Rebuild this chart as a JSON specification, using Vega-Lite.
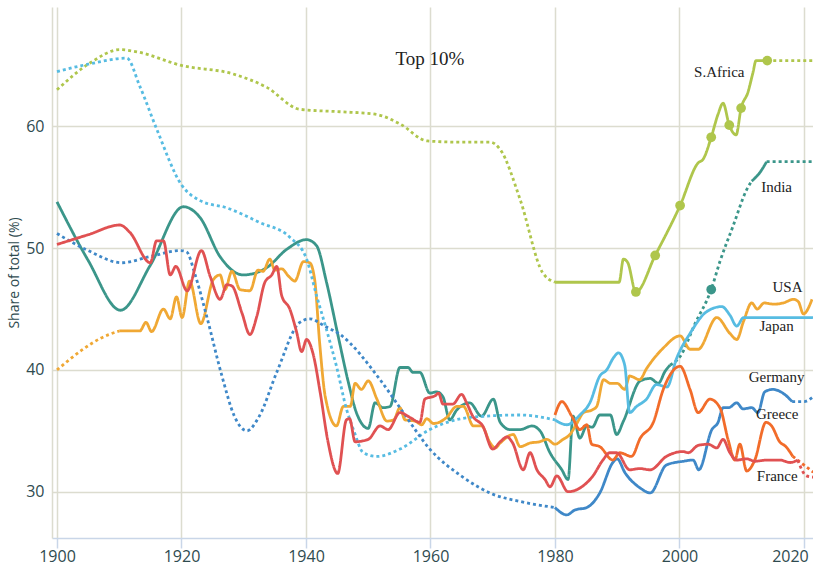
{
  "$schema": "https://vega.github.io/schema/vega-lite/v6.json",
  "width": 761,
  "height": 531,
  "autosize": {"type": "none"},
  "padding": {"left": 52, "top": 7, "right": 0, "bottom": 30},
  "background": "white",
  "config": {
    "view": {"stroke": null},
    "axis": {
      "labelFont": "Open Sans",
      "titleFont": "Open Sans",
      "labelFontSize": 16,
      "labelColor": "#2f4b4f",
      "titleColor": "#2f4b4f",
      "gridColor": "#dcdccf",
      "gridWidth": 1.5
    }
  },
  "datasets": {
    "lines": [
      {"country":"S.Africa","seg":"SA1","style":"dotted","year":1900,"value":63.0},
      {"country":"S.Africa","seg":"SA1","style":"dotted","year":1905.3,"value":65.2},
      {"country":"S.Africa","seg":"SA1","style":"dotted","year":1910.1,"value":66.3},
      {"country":"S.Africa","seg":"SA1","style":"dotted","year":1913,"value":66.1},
      {"country":"S.Africa","seg":"SA1","style":"dotted","year":1920,"value":65.0},
      {"country":"S.Africa","seg":"SA1","style":"dotted","year":1928.3,"value":64.3},
      {"country":"S.Africa","seg":"SA1","style":"dotted","year":1933.7,"value":63.2},
      {"country":"S.Africa","seg":"SA1","style":"dotted","year":1939,"value":61.4},
      {"country":"S.Africa","seg":"SA1","style":"dotted","year":1945.5,"value":61.2},
      {"country":"S.Africa","seg":"SA1","style":"dotted","year":1951.1,"value":61.0},
      {"country":"S.Africa","seg":"SA1","style":"dotted","year":1955.1,"value":60.2},
      {"country":"S.Africa","seg":"SA1","style":"dotted","year":1959.5,"value":58.8},
      {"country":"S.Africa","seg":"SA1","style":"dotted","year":1965,"value":58.7},
      {"country":"S.Africa","seg":"SA1","style":"dotted","year":1969.6,"value":58.7},
      {"country":"S.Africa","seg":"SA1","style":"dotted","year":1971.2,"value":58.1},
      {"country":"S.Africa","seg":"SA1","style":"dotted","year":1974.4,"value":54.0},
      {"country":"S.Africa","seg":"SA1","style":"dotted","year":1978,"value":48.0},
      {"country":"S.Africa","seg":"SA1","style":"dotted","year":1980,"value":47.2},
      {"country":"S.Africa","seg":"SA2","style":"solid","year":1980,"value":47.2},
      {"country":"S.Africa","seg":"SA2","style":"solid","year":1990.3,"value":47.2},
      {"country":"S.Africa","seg":"SA2","style":"solid","year":1991.0,"value":49.1},
      {"country":"S.Africa","seg":"SA2","style":"solid","year":1991.7,"value":48.8},
      {"country":"S.Africa","seg":"SA2","style":"solid","year":1993,"value":46.4},
      {"country":"S.Africa","seg":"SA2","style":"solid","year":1996.1,"value":49.4},
      {"country":"S.Africa","seg":"SA2","style":"solid","year":2000.1,"value":53.5},
      {"country":"S.Africa","seg":"SA2","style":"solid","year":2003,"value":57.0},
      {"country":"S.Africa","seg":"SA2","style":"solid","year":2003.8,"value":57.3},
      {"country":"S.Africa","seg":"SA2","style":"solid","year":2005.1,"value":59.1},
      {"country":"S.Africa","seg":"SA2","style":"solid","year":2006.2,"value":61.0},
      {"country":"S.Africa","seg":"SA2","style":"solid","year":2007,"value":61.9},
      {"country":"S.Africa","seg":"SA2","style":"solid","year":2008,"value":60.1},
      {"country":"S.Africa","seg":"SA2","style":"solid","year":2009.1,"value":59.3},
      {"country":"S.Africa","seg":"SA2","style":"solid","year":2009.9,"value":61.5},
      {"country":"S.Africa","seg":"SA2","style":"solid","year":2011,"value":62.8},
      {"country":"S.Africa","seg":"SA2","style":"solid","year":2011.8,"value":64.4},
      {"country":"S.Africa","seg":"SA2","style":"solid","year":2012.3,"value":65.4},
      {"country":"S.Africa","seg":"SA2","style":"solid","year":2014.1,"value":65.4},
      {"country":"S.Africa","seg":"SA3","style":"dotted","year":2014.1,"value":65.4},
      {"country":"S.Africa","seg":"SA3","style":"dotted","year":2021.5,"value":65.4},

      {"country":"India","seg":"IN1","style":"solid","year":1900,"value":53.8},
      {"country":"India","seg":"IN1","style":"solid","year":1905,"value":49.0},
      {"country":"India","seg":"IN1","style":"solid","year":1910.2,"value":44.9},
      {"country":"India","seg":"IN1","style":"solid","year":1915,"value":48.6},
      {"country":"India","seg":"IN1","style":"solid","year":1920.3,"value":53.4},
      {"country":"India","seg":"IN1","style":"solid","year":1923,"value":52.5},
      {"country":"India","seg":"IN1","style":"solid","year":1926.2,"value":49.3},
      {"country":"India","seg":"IN1","style":"solid","year":1929.9,"value":47.8},
      {"country":"India","seg":"IN1","style":"solid","year":1933.7,"value":48.4},
      {"country":"India","seg":"IN1","style":"solid","year":1936.9,"value":49.9},
      {"country":"India","seg":"IN1","style":"solid","year":1940.1,"value":50.7},
      {"country":"India","seg":"IN1","style":"solid","year":1941.7,"value":50.2},
      {"country":"India","seg":"IN1","style":"solid","year":1943.3,"value":47.2},
      {"country":"India","seg":"IN1","style":"solid","year":1945.2,"value":42.7},
      {"country":"India","seg":"IN1","style":"solid","year":1946.8,"value":39.0},
      {"country":"India","seg":"IN1","style":"solid","year":1948.1,"value":36.5},
      {"country":"India","seg":"IN1","style":"solid","year":1950,"value":35.2},
      {"country":"India","seg":"IN1","style":"solid","year":1951.1,"value":37.3},
      {"country":"India","seg":"IN1","style":"solid","year":1952.4,"value":36.9},
      {"country":"India","seg":"IN1","style":"solid","year":1953.5,"value":37.0},
      {"country":"India","seg":"IN1","style":"solid","year":1955.1,"value":40.2},
      {"country":"India","seg":"IN1","style":"solid","year":1956.4,"value":40.2},
      {"country":"India","seg":"IN1","style":"solid","year":1957.2,"value":39.8},
      {"country":"India","seg":"IN1","style":"solid","year":1958.3,"value":39.8},
      {"country":"India","seg":"IN1","style":"solid","year":1959.9,"value":38.1},
      {"country":"India","seg":"IN1","style":"solid","year":1961,"value":38.2},
      {"country":"India","seg":"IN1","style":"solid","year":1962,"value":37.8},
      {"country":"India","seg":"IN1","style":"solid","year":1963.1,"value":35.9},
      {"country":"India","seg":"IN1","style":"solid","year":1964.2,"value":36.7},
      {"country":"India","seg":"IN1","style":"solid","year":1966.3,"value":37.3},
      {"country":"India","seg":"IN1","style":"solid","year":1968.2,"value":36.2},
      {"country":"India","seg":"IN1","style":"solid","year":1970.1,"value":37.6},
      {"country":"India","seg":"IN1","style":"solid","year":1971.2,"value":35.7},
      {"country":"India","seg":"IN1","style":"solid","year":1972.8,"value":35.1},
      {"country":"India","seg":"IN1","style":"solid","year":1974.4,"value":35.1},
      {"country":"India","seg":"IN1","style":"solid","year":1976.3,"value":35.4},
      {"country":"India","seg":"IN1","style":"solid","year":1977.6,"value":35.0},
      {"country":"India","seg":"IN1","style":"solid","year":1979.2,"value":33.2},
      {"country":"India","seg":"IN1","style":"solid","year":1981.1,"value":31.8},
      {"country":"India","seg":"IN1","style":"solid","year":1982.1,"value":31.0},
      {"country":"India","seg":"IN1","style":"solid","year":1982.9,"value":36.2},
      {"country":"India","seg":"IN1","style":"solid","year":1984,"value":34.4},
      {"country":"India","seg":"IN1","style":"solid","year":1985.1,"value":35.4},
      {"country":"India","seg":"IN1","style":"solid","year":1986,"value":35.3},
      {"country":"India","seg":"IN1","style":"solid","year":1987.2,"value":36.3},
      {"country":"India","seg":"IN1","style":"solid","year":1988.9,"value":36.3},
      {"country":"India","seg":"IN1","style":"solid","year":1989.9,"value":34.7},
      {"country":"India","seg":"IN1","style":"solid","year":1991,"value":35.8},
      {"country":"India","seg":"IN1","style":"solid","year":1993.7,"value":39.1},
      {"country":"India","seg":"IN1","style":"solid","year":1995.3,"value":39.3},
      {"country":"India","seg":"IN1","style":"solid","year":1996.6,"value":38.9},
      {"country":"India","seg":"IN1","style":"solid","year":1997.7,"value":39.9},
      {"country":"India","seg":"IN1","style":"solid","year":1998.5,"value":40.4},
      {"country":"India","seg":"IN2","style":"dotted","year":1998.5,"value":40.4},
      {"country":"India","seg":"IN2","style":"dotted","year":2000.1,"value":41.1},
      {"country":"India","seg":"IN2","style":"dotted","year":2002.5,"value":43.8},
      {"country":"India","seg":"IN2","style":"dotted","year":2005.1,"value":46.6},
      {"country":"India","seg":"IN2","style":"dotted","year":2006.5,"value":48.9},
      {"country":"India","seg":"IN2","style":"dotted","year":2008.6,"value":51.8},
      {"country":"India","seg":"IN2","style":"dotted","year":2010.8,"value":54.8},
      {"country":"India","seg":"IN2","style":"dotted","year":2011.6,"value":55.5},
      {"country":"India","seg":"IN3","style":"solid","year":2011.6,"value":55.5},
      {"country":"India","seg":"IN3","style":"solid","year":2012.9,"value":56.2},
      {"country":"India","seg":"IN3","style":"solid","year":2014,"value":57.1},
      {"country":"India","seg":"IN4","style":"dotted","year":2014,"value":57.1},
      {"country":"India","seg":"IN4","style":"dotted","year":2021.5,"value":57.1},

      {"country":"USA","seg":"US1","style":"dotted","year":1900,"value":40.0},
      {"country":"USA","seg":"US1","style":"dotted","year":1904.2,"value":41.7},
      {"country":"USA","seg":"US1","style":"dotted","year":1907,"value":42.6},
      {"country":"USA","seg":"US1","style":"dotted","year":1910,"value":43.2},
      {"country":"USA","seg":"US2","style":"solid","year":1910,"value":43.2},
      {"country":"USA","seg":"US2","style":"solid","year":1913.3,"value":43.2},
      {"country":"USA","seg":"US2","style":"solid","year":1914.3,"value":43.9},
      {"country":"USA","seg":"US2","style":"solid","year":1915.2,"value":43.15},
      {"country":"USA","seg":"US2","style":"solid","year":1917.1,"value":45.0},
      {"country":"USA","seg":"US2","style":"solid","year":1918.2,"value":44.2},
      {"country":"USA","seg":"US2","style":"solid","year":1919.2,"value":46.0},
      {"country":"USA","seg":"US2","style":"solid","year":1920.1,"value":44.3},
      {"country":"USA","seg":"US2","style":"solid","year":1921.3,"value":47.3},
      {"country":"USA","seg":"US2","style":"solid","year":1923.1,"value":43.8},
      {"country":"USA","seg":"US2","style":"solid","year":1925.1,"value":47.4},
      {"country":"USA","seg":"US2","style":"solid","year":1926.2,"value":47.8},
      {"country":"USA","seg":"US2","style":"solid","year":1927,"value":46.6},
      {"country":"USA","seg":"US2","style":"solid","year":1928.1,"value":48.1},
      {"country":"USA","seg":"US2","style":"solid","year":1929.4,"value":46.6},
      {"country":"USA","seg":"US2","style":"solid","year":1931,"value":46.5},
      {"country":"USA","seg":"US2","style":"solid","year":1932.3,"value":48.2},
      {"country":"USA","seg":"US2","style":"solid","year":1933.1,"value":48.1},
      {"country":"USA","seg":"US2","style":"solid","year":1934.2,"value":49.1},
      {"country":"USA","seg":"US2","style":"solid","year":1935,"value":48.2},
      {"country":"USA","seg":"US2","style":"solid","year":1936.1,"value":48.3},
      {"country":"USA","seg":"US2","style":"solid","year":1937.2,"value":47.7},
      {"country":"USA","seg":"US2","style":"solid","year":1938.2,"value":47.3},
      {"country":"USA","seg":"US2","style":"solid","year":1939.6,"value":48.9},
      {"country":"USA","seg":"US2","style":"solid","year":1940.6,"value":48.8},
      {"country":"USA","seg":"US2","style":"solid","year":1941.4,"value":47.4},
      {"country":"USA","seg":"US2","style":"solid","year":1942.2,"value":42.2},
      {"country":"USA","seg":"US2","style":"solid","year":1943.1,"value":37.8},
      {"country":"USA","seg":"US2","style":"solid","year":1944.9,"value":35.4},
      {"country":"USA","seg":"US2","style":"solid","year":1946,"value":37.0},
      {"country":"USA","seg":"US2","style":"solid","year":1947.1,"value":37.0},
      {"country":"USA","seg":"US2","style":"solid","year":1947.9,"value":38.9},
      {"country":"USA","seg":"US2","style":"solid","year":1948.9,"value":38.4},
      {"country":"USA","seg":"US2","style":"solid","year":1950,"value":39.1},
      {"country":"USA","seg":"US2","style":"solid","year":1951.4,"value":37.6},
      {"country":"USA","seg":"US2","style":"solid","year":1953,"value":35.8},
      {"country":"USA","seg":"US2","style":"solid","year":1954.1,"value":35.9},
      {"country":"USA","seg":"US2","style":"solid","year":1955.1,"value":36.9},
      {"country":"USA","seg":"US2","style":"solid","year":1955.9,"value":35.9},
      {"country":"USA","seg":"US2","style":"solid","year":1957.5,"value":35.8},
      {"country":"USA","seg":"US2","style":"solid","year":1958.6,"value":35.5},
      {"country":"USA","seg":"US2","style":"solid","year":1959.4,"value":36.0},
      {"country":"USA","seg":"US2","style":"solid","year":1960.5,"value":35.6},
      {"country":"USA","seg":"US2","style":"solid","year":1962.6,"value":36.1},
      {"country":"USA","seg":"US2","style":"solid","year":1964.2,"value":37.0},
      {"country":"USA","seg":"US2","style":"solid","year":1965.3,"value":37.0},
      {"country":"USA","seg":"US2","style":"solid","year":1966.9,"value":35.4},
      {"country":"USA","seg":"US2","style":"solid","year":1968.2,"value":35.4},
      {"country":"USA","seg":"US2","style":"solid","year":1969.6,"value":34.0},
      {"country":"USA","seg":"US2","style":"solid","year":1970.4,"value":33.6},
      {"country":"USA","seg":"US2","style":"solid","year":1971.2,"value":34.0},
      {"country":"USA","seg":"US2","style":"solid","year":1973.3,"value":34.7},
      {"country":"USA","seg":"US2","style":"solid","year":1974.4,"value":33.7},
      {"country":"USA","seg":"US2","style":"solid","year":1976,"value":34.0},
      {"country":"USA","seg":"US2","style":"solid","year":1977.5,"value":34.1},
      {"country":"USA","seg":"US2","style":"solid","year":1978.7,"value":34.3},
      {"country":"USA","seg":"US2","style":"solid","year":1980,"value":33.9},
      {"country":"USA","seg":"US2","style":"solid","year":1981.3,"value":34.3},
      {"country":"USA","seg":"US2","style":"solid","year":1982.4,"value":34.7},
      {"country":"USA","seg":"US2","style":"solid","year":1983.5,"value":35.6},
      {"country":"USA","seg":"US2","style":"solid","year":1984.6,"value":36.5},
      {"country":"USA","seg":"US2","style":"solid","year":1985.9,"value":36.7},
      {"country":"USA","seg":"US2","style":"solid","year":1986.7,"value":37.0},
      {"country":"USA","seg":"US2","style":"solid","year":1987.8,"value":39.2},
      {"country":"USA","seg":"US2","style":"solid","year":1988.9,"value":38.9},
      {"country":"USA","seg":"US2","style":"solid","year":1990,"value":38.9},
      {"country":"USA","seg":"US2","style":"solid","year":1991.2,"value":38.4},
      {"country":"USA","seg":"US2","style":"solid","year":1992,"value":39.5},
      {"country":"USA","seg":"US2","style":"solid","year":1993.6,"value":39.2},
      {"country":"USA","seg":"US2","style":"solid","year":1994.7,"value":40.1},
      {"country":"USA","seg":"US2","style":"solid","year":1997.4,"value":41.8},
      {"country":"USA","seg":"US2","style":"solid","year":2000.1,"value":42.8},
      {"country":"USA","seg":"US2","style":"solid","year":2001.7,"value":41.7},
      {"country":"USA","seg":"US2","style":"solid","year":2003,"value":41.7},
      {"country":"USA","seg":"US2","style":"solid","year":2006,"value":44.3},
      {"country":"USA","seg":"US2","style":"solid","year":2008.1,"value":43.0},
      {"country":"USA","seg":"US2","style":"solid","year":2009.2,"value":42.5},
      {"country":"USA","seg":"US2","style":"solid","year":2010.3,"value":44.0},
      {"country":"USA","seg":"US2","style":"solid","year":2011.6,"value":45.5},
      {"country":"USA","seg":"US2","style":"solid","year":2012.5,"value":45.0},
      {"country":"USA","seg":"US2","style":"solid","year":2013.6,"value":45.5},
      {"country":"USA","seg":"US2","style":"solid","year":2015.1,"value":45.4},
      {"country":"USA","seg":"US2","style":"solid","year":2016.7,"value":45.5},
      {"country":"USA","seg":"US2","style":"solid","year":2018.3,"value":45.8},
      {"country":"USA","seg":"US2","style":"solid","year":2019.1,"value":45.6},
      {"country":"USA","seg":"US2","style":"solid","year":2019.9,"value":44.6},
      {"country":"USA","seg":"US2","style":"solid","year":2021.3,"value":45.8},

      {"country":"Japan","seg":"JP1","style":"dotted","year":1900,"value":64.5},
      {"country":"Japan","seg":"JP1","style":"dotted","year":1905,"value":65.1},
      {"country":"Japan","seg":"JP1","style":"dotted","year":1911.2,"value":65.6},
      {"country":"Japan","seg":"JP1","style":"dotted","year":1913.3,"value":63.3},
      {"country":"Japan","seg":"JP1","style":"dotted","year":1916,"value":59.8},
      {"country":"Japan","seg":"JP1","style":"dotted","year":1920,"value":55.2},
      {"country":"Japan","seg":"JP1","style":"dotted","year":1923,"value":53.9},
      {"country":"Japan","seg":"JP1","style":"dotted","year":1927.3,"value":53.3},
      {"country":"Japan","seg":"JP1","style":"dotted","year":1932.6,"value":52.1},
      {"country":"Japan","seg":"JP1","style":"dotted","year":1937.4,"value":50.9},
      {"country":"Japan","seg":"JP1","style":"dotted","year":1940.1,"value":49.1},
      {"country":"Japan","seg":"JP1","style":"dotted","year":1941.7,"value":46.1},
      {"country":"Japan","seg":"JP1","style":"dotted","year":1943.3,"value":43.3},
      {"country":"Japan","seg":"JP1","style":"dotted","year":1944.9,"value":40.3},
      {"country":"Japan","seg":"JP1","style":"dotted","year":1946.5,"value":36.8},
      {"country":"Japan","seg":"JP1","style":"dotted","year":1947.7,"value":35.0},
      {"country":"Japan","seg":"JP1","style":"dotted","year":1949.2,"value":33.2},
      {"country":"Japan","seg":"JP1","style":"dotted","year":1951.4,"value":32.9},
      {"country":"Japan","seg":"JP1","style":"dotted","year":1955.1,"value":33.5},
      {"country":"Japan","seg":"JP1","style":"dotted","year":1959.9,"value":35.1},
      {"country":"Japan","seg":"JP1","style":"dotted","year":1966.3,"value":36.1},
      {"country":"Japan","seg":"JP1","style":"dotted","year":1974.4,"value":36.3},
      {"country":"Japan","seg":"JP1","style":"dotted","year":1980,"value":35.9},
      {"country":"Japan","seg":"JP2","style":"solid","year":1980,"value":35.9},
      {"country":"Japan","seg":"JP2","style":"solid","year":1981.9,"value":35.5},
      {"country":"Japan","seg":"JP2","style":"solid","year":1984,"value":36.3},
      {"country":"Japan","seg":"JP2","style":"solid","year":1985.6,"value":37.3},
      {"country":"Japan","seg":"JP2","style":"solid","year":1987.2,"value":39.5},
      {"country":"Japan","seg":"JP2","style":"solid","year":1988.3,"value":40.0},
      {"country":"Japan","seg":"JP2","style":"solid","year":1989.4,"value":41.0},
      {"country":"Japan","seg":"JP2","style":"solid","year":1990.2,"value":41.4},
      {"country":"Japan","seg":"JP2","style":"solid","year":1991.2,"value":40.4},
      {"country":"Japan","seg":"JP2","style":"solid","year":1992,"value":36.5},
      {"country":"Japan","seg":"JP2","style":"solid","year":1993.1,"value":37.0},
      {"country":"Japan","seg":"JP2","style":"solid","year":1994.7,"value":37.6},
      {"country":"Japan","seg":"JP2","style":"solid","year":1996.3,"value":38.8},
      {"country":"Japan","seg":"JP2","style":"solid","year":1998,"value":38.6},
      {"country":"Japan","seg":"JP2","style":"solid","year":1999.5,"value":40.9},
      {"country":"Japan","seg":"JP2","style":"solid","year":2001.7,"value":43.0},
      {"country":"Japan","seg":"JP2","style":"solid","year":2004.4,"value":44.8},
      {"country":"Japan","seg":"JP2","style":"solid","year":2006.8,"value":45.2},
      {"country":"Japan","seg":"JP2","style":"solid","year":2008.1,"value":44.5},
      {"country":"Japan","seg":"JP2","style":"solid","year":2009.2,"value":43.6},
      {"country":"Japan","seg":"JP2","style":"solid","year":2010.3,"value":44.3},
      {"country":"Japan","seg":"JP2","style":"solid","year":2015,"value":44.3},
      {"country":"Japan","seg":"JP2","style":"solid","year":2021.5,"value":44.3},

      {"country":"Germany","seg":"DE1","style":"dotted","year":1900,"value":51.2},
      {"country":"Germany","seg":"DE1","style":"dotted","year":1905,"value":49.8},
      {"country":"Germany","seg":"DE1","style":"dotted","year":1910.4,"value":48.8},
      {"country":"Germany","seg":"DE1","style":"dotted","year":1914.9,"value":49.3},
      {"country":"Germany","seg":"DE1","style":"dotted","year":1919.8,"value":49.8},
      {"country":"Germany","seg":"DE1","style":"dotted","year":1920.8,"value":49.7},
      {"country":"Germany","seg":"DE1","style":"dotted","year":1922.2,"value":47.8},
      {"country":"Germany","seg":"DE1","style":"dotted","year":1924,"value":44.5},
      {"country":"Germany","seg":"DE1","style":"dotted","year":1926.5,"value":39.5},
      {"country":"Germany","seg":"DE1","style":"dotted","year":1928.5,"value":36.2},
      {"country":"Germany","seg":"DE1","style":"dotted","year":1930.5,"value":35.0},
      {"country":"Germany","seg":"DE1","style":"dotted","year":1932.5,"value":36.2},
      {"country":"Germany","seg":"DE1","style":"dotted","year":1935.3,"value":39.8},
      {"country":"Germany","seg":"DE1","style":"dotted","year":1939,"value":43.9},
      {"country":"Germany","seg":"DE1","style":"dotted","year":1940.6,"value":44.2},
      {"country":"Germany","seg":"DE1","style":"dotted","year":1943,"value":43.6},
      {"country":"Germany","seg":"DE1","style":"dotted","year":1945.5,"value":42.9},
      {"country":"Germany","seg":"DE1","style":"dotted","year":1951.9,"value":39.2},
      {"country":"Germany","seg":"DE1","style":"dotted","year":1955.5,"value":36.6},
      {"country":"Germany","seg":"DE1","style":"dotted","year":1959.9,"value":33.5},
      {"country":"Germany","seg":"DE1","style":"dotted","year":1965.2,"value":31.2},
      {"country":"Germany","seg":"DE1","style":"dotted","year":1970,"value":29.8},
      {"country":"Germany","seg":"DE1","style":"dotted","year":1974.4,"value":29.2},
      {"country":"Germany","seg":"DE1","style":"dotted","year":1980,"value":28.7},
      {"country":"Germany","seg":"DE2","style":"solid","year":1980,"value":28.7},
      {"country":"Germany","seg":"DE2","style":"solid","year":1981.9,"value":28.1},
      {"country":"Germany","seg":"DE2","style":"solid","year":1983.2,"value":28.5},
      {"country":"Germany","seg":"DE2","style":"solid","year":1985.1,"value":28.7},
      {"country":"Germany","seg":"DE2","style":"solid","year":1987.2,"value":29.9},
      {"country":"Germany","seg":"DE2","style":"solid","year":1989.3,"value":32.4},
      {"country":"Germany","seg":"DE2","style":"solid","year":1990,"value":32.7},
      {"country":"Germany","seg":"DE2","style":"solid","year":1991.2,"value":31.6},
      {"country":"Germany","seg":"DE2","style":"solid","year":1993.7,"value":30.3},
      {"country":"Germany","seg":"DE2","style":"solid","year":1995.3,"value":29.9},
      {"country":"Germany","seg":"DE2","style":"solid","year":1997.9,"value":32.2},
      {"country":"Germany","seg":"DE2","style":"solid","year":2000.6,"value":32.5},
      {"country":"Germany","seg":"DE2","style":"solid","year":2002.2,"value":32.6},
      {"country":"Germany","seg":"DE2","style":"solid","year":2003.1,"value":31.8},
      {"country":"Germany","seg":"DE2","style":"solid","year":2005.2,"value":35.1},
      {"country":"Germany","seg":"DE2","style":"solid","year":2006.2,"value":35.7},
      {"country":"Germany","seg":"DE2","style":"solid","year":2007,"value":36.9},
      {"country":"Germany","seg":"DE2","style":"solid","year":2007.9,"value":36.9},
      {"country":"Germany","seg":"DE2","style":"solid","year":2009.2,"value":37.3},
      {"country":"Germany","seg":"DE2","style":"solid","year":2010.2,"value":36.8},
      {"country":"Germany","seg":"DE2","style":"solid","year":2011.6,"value":36.9},
      {"country":"Germany","seg":"DE2","style":"solid","year":2012.6,"value":36.5},
      {"country":"Germany","seg":"DE2","style":"solid","year":2013.7,"value":38.2},
      {"country":"Germany","seg":"DE2","style":"solid","year":2015,"value":38.4},
      {"country":"Germany","seg":"DE2","style":"solid","year":2016.6,"value":38.1},
      {"country":"Germany","seg":"DE2","style":"solid","year":2018.1,"value":37.4},
      {"country":"Germany","seg":"DE3","style":"dotted","year":2018.1,"value":37.4},
      {"country":"Germany","seg":"DE3","style":"dotted","year":2020,"value":37.4},
      {"country":"Germany","seg":"DE3","style":"dotted","year":2021.5,"value":37.8},

      {"country":"Greece","seg":"GR1","style":"solid","year":1980,"value":36.3},
      {"country":"Greece","seg":"GR1","style":"solid","year":1981.1,"value":37.4},
      {"country":"Greece","seg":"GR1","style":"solid","year":1982.7,"value":36.2},
      {"country":"Greece","seg":"GR1","style":"solid","year":1984,"value":35.1},
      {"country":"Greece","seg":"GR1","style":"solid","year":1985.1,"value":35.5},
      {"country":"Greece","seg":"GR1","style":"solid","year":1985.9,"value":33.9},
      {"country":"Greece","seg":"GR1","style":"solid","year":1987.2,"value":33.7},
      {"country":"Greece","seg":"GR1","style":"solid","year":1989.3,"value":32.6},
      {"country":"Greece","seg":"GR1","style":"solid","year":1990.4,"value":33.2},
      {"country":"Greece","seg":"GR1","style":"solid","year":1992.3,"value":32.9},
      {"country":"Greece","seg":"GR1","style":"solid","year":1993.7,"value":34.4},
      {"country":"Greece","seg":"GR1","style":"solid","year":1995.8,"value":35.7},
      {"country":"Greece","seg":"GR1","style":"solid","year":1997.4,"value":38.4},
      {"country":"Greece","seg":"GR1","style":"solid","year":2000.1,"value":40.3},
      {"country":"Greece","seg":"GR1","style":"solid","year":2001.7,"value":38.4},
      {"country":"Greece","seg":"GR1","style":"solid","year":2003,"value":36.5},
      {"country":"Greece","seg":"GR1","style":"solid","year":2004.9,"value":37.6},
      {"country":"Greece","seg":"GR1","style":"solid","year":2006.5,"value":36.9},
      {"country":"Greece","seg":"GR1","style":"solid","year":2007.8,"value":34.3},
      {"country":"Greece","seg":"GR1","style":"solid","year":2008.9,"value":32.6},
      {"country":"Greece","seg":"GR1","style":"solid","year":2009.7,"value":33.9},
      {"country":"Greece","seg":"GR1","style":"solid","year":2010.8,"value":31.7},
      {"country":"Greece","seg":"GR1","style":"solid","year":2012.1,"value":32.6},
      {"country":"Greece","seg":"GR1","style":"solid","year":2013.9,"value":35.7},
      {"country":"Greece","seg":"GR1","style":"solid","year":2014.8,"value":35.4},
      {"country":"Greece","seg":"GR1","style":"solid","year":2016.1,"value":34.1},
      {"country":"Greece","seg":"GR1","style":"solid","year":2017.1,"value":33.7},
      {"country":"Greece","seg":"GR1","style":"solid","year":2018.2,"value":32.9},
      {"country":"Greece","seg":"GR2","style":"dotted","year":2018.2,"value":32.9},
      {"country":"Greece","seg":"GR2","style":"dotted","year":2021.5,"value":31.6},

      {"country":"France","seg":"FR1","style":"solid","year":1900,"value":50.3},
      {"country":"France","seg":"FR1","style":"solid","year":1905,"value":51.1},
      {"country":"France","seg":"FR1","style":"solid","year":1910.1,"value":51.9},
      {"country":"France","seg":"FR1","style":"solid","year":1911.7,"value":51.3},
      {"country":"France","seg":"FR1","style":"solid","year":1915,"value":48.8},
      {"country":"France","seg":"FR1","style":"solid","year":1916,"value":50.6},
      {"country":"France","seg":"FR1","style":"solid","year":1917.1,"value":50.6},
      {"country":"France","seg":"FR1","style":"solid","year":1918.2,"value":47.8},
      {"country":"France","seg":"FR1","style":"solid","year":1919.1,"value":48.5},
      {"country":"France","seg":"FR1","style":"solid","year":1920.9,"value":46.5},
      {"country":"France","seg":"FR1","style":"solid","year":1923.2,"value":49.8},
      {"country":"France","seg":"FR1","style":"solid","year":1924.6,"value":47.7},
      {"country":"France","seg":"FR1","style":"solid","year":1926.2,"value":45.8},
      {"country":"France","seg":"FR1","style":"solid","year":1927.3,"value":47.0},
      {"country":"France","seg":"FR1","style":"solid","year":1928.1,"value":46.9},
      {"country":"France","seg":"FR1","style":"solid","year":1929.7,"value":44.7},
      {"country":"France","seg":"FR1","style":"solid","year":1931,"value":42.9},
      {"country":"France","seg":"FR1","style":"solid","year":1932.1,"value":44.4},
      {"country":"France","seg":"FR1","style":"solid","year":1933.4,"value":47.2},
      {"country":"France","seg":"FR1","style":"solid","year":1934.5,"value":47.8},
      {"country":"France","seg":"FR1","style":"solid","year":1935.3,"value":48.5},
      {"country":"France","seg":"FR1","style":"solid","year":1936.1,"value":46.1},
      {"country":"France","seg":"FR1","style":"solid","year":1937.4,"value":45.0},
      {"country":"France","seg":"FR1","style":"solid","year":1938.5,"value":43.1},
      {"country":"France","seg":"FR1","style":"solid","year":1939.3,"value":41.5},
      {"country":"France","seg":"FR1","style":"solid","year":1940.1,"value":42.5},
      {"country":"France","seg":"FR1","style":"solid","year":1941.1,"value":41.4},
      {"country":"France","seg":"FR1","style":"solid","year":1942.3,"value":38.1},
      {"country":"France","seg":"FR1","style":"solid","year":1943.5,"value":34.2},
      {"country":"France","seg":"FR1","style":"solid","year":1945.1,"value":31.5},
      {"country":"France","seg":"FR1","style":"solid","year":1946.5,"value":35.9},
      {"country":"France","seg":"FR1","style":"solid","year":1947,"value":36.0},
      {"country":"France","seg":"FR1","style":"solid","year":1947.9,"value":34.1},
      {"country":"France","seg":"FR1","style":"solid","year":1950,"value":34.3},
      {"country":"France","seg":"FR1","style":"solid","year":1951.9,"value":35.4},
      {"country":"France","seg":"FR1","style":"solid","year":1953.2,"value":35.1},
      {"country":"France","seg":"FR1","style":"solid","year":1955.1,"value":36.5},
      {"country":"France","seg":"FR1","style":"solid","year":1956.7,"value":36.1},
      {"country":"France","seg":"FR1","style":"solid","year":1958.3,"value":35.7},
      {"country":"France","seg":"FR1","style":"solid","year":1959.1,"value":37.6},
      {"country":"France","seg":"FR1","style":"solid","year":1960.8,"value":37.9},
      {"country":"France","seg":"FR1","style":"solid","year":1961.3,"value":38.1},
      {"country":"France","seg":"FR1","style":"solid","year":1962,"value":37.2},
      {"country":"France","seg":"FR1","style":"solid","year":1963.6,"value":37.2},
      {"country":"France","seg":"FR1","style":"solid","year":1965,"value":38.0},
      {"country":"France","seg":"FR1","style":"solid","year":1965.8,"value":37.3},
      {"country":"France","seg":"FR1","style":"solid","year":1966.8,"value":36.2},
      {"country":"France","seg":"FR1","style":"solid","year":1968.4,"value":35.4},
      {"country":"France","seg":"FR1","style":"solid","year":1970,"value":33.5},
      {"country":"France","seg":"FR1","style":"solid","year":1971.2,"value":34.1},
      {"country":"France","seg":"FR1","style":"solid","year":1972.3,"value":34.5},
      {"country":"France","seg":"FR1","style":"solid","year":1973.2,"value":34.0},
      {"country":"France","seg":"FR1","style":"solid","year":1974.9,"value":31.8},
      {"country":"France","seg":"FR1","style":"solid","year":1976,"value":33.2},
      {"country":"France","seg":"FR1","style":"solid","year":1977.1,"value":31.8},
      {"country":"France","seg":"FR1","style":"solid","year":1978.4,"value":31.0},
      {"country":"France","seg":"FR1","style":"solid","year":1979.2,"value":30.4},
      {"country":"France","seg":"FR1","style":"solid","year":1980.3,"value":31.3},
      {"country":"France","seg":"FR1","style":"solid","year":1982.1,"value":30.0},
      {"country":"France","seg":"FR1","style":"solid","year":1984,"value":30.3},
      {"country":"France","seg":"FR1","style":"solid","year":1986.1,"value":31.3},
      {"country":"France","seg":"FR1","style":"solid","year":1987.7,"value":32.6},
      {"country":"France","seg":"FR1","style":"solid","year":1988.8,"value":33.2},
      {"country":"France","seg":"FR1","style":"solid","year":1989.9,"value":33.2},
      {"country":"France","seg":"FR1","style":"solid","year":1992,"value":31.8},
      {"country":"France","seg":"FR1","style":"solid","year":1993.6,"value":31.9},
      {"country":"France","seg":"FR1","style":"solid","year":1995.3,"value":31.8},
      {"country":"France","seg":"FR1","style":"solid","year":1997.9,"value":32.9},
      {"country":"France","seg":"FR1","style":"solid","year":2000.6,"value":33.3},
      {"country":"France","seg":"FR1","style":"solid","year":2001.4,"value":33.2},
      {"country":"France","seg":"FR1","style":"solid","year":2003,"value":33.8},
      {"country":"France","seg":"FR1","style":"solid","year":2004.6,"value":33.9},
      {"country":"France","seg":"FR1","style":"solid","year":2006,"value":33.6},
      {"country":"France","seg":"FR1","style":"solid","year":2007,"value":34.3},
      {"country":"France","seg":"FR1","style":"solid","year":2008.1,"value":33.2},
      {"country":"France","seg":"FR1","style":"solid","year":2009.2,"value":32.6},
      {"country":"France","seg":"FR1","style":"solid","year":2010.8,"value":32.7},
      {"country":"France","seg":"FR1","style":"solid","year":2012.1,"value":32.5},
      {"country":"France","seg":"FR1","style":"solid","year":2014,"value":32.6},
      {"country":"France","seg":"FR1","style":"solid","year":2016.1,"value":32.6},
      {"country":"France","seg":"FR1","style":"solid","year":2017.8,"value":32.4},
      {"country":"France","seg":"FR1","style":"solid","year":2019,"value":32.6},
      {"country":"France","seg":"FR2","style":"dotted","year":2019,"value":32.6},
      {"country":"France","seg":"FR2","style":"dotted","year":2020.4,"value":31.3},
      {"country":"France","seg":"FR2","style":"dotted","year":2021.5,"value":31.2}
    ],
    "points": [
      {"country":"S.Africa","year":1993,"value":46.4},
      {"country":"S.Africa","year":1996.1,"value":49.4},
      {"country":"S.Africa","year":2000.1,"value":53.5},
      {"country":"S.Africa","year":2005.1,"value":59.1},
      {"country":"S.Africa","year":2008,"value":60.1},
      {"country":"S.Africa","year":2009.9,"value":61.5},
      {"country":"S.Africa","year":2014.1,"value":65.4},
      {"country":"India","year":2005.1,"value":46.6}
    ],
    "labels": [
      {"label":"S.Africa","year":2006.4,"value":64.5,"size":15},
      {"label":"India","year":2015.6,"value":55.0,"size":15},
      {"label":"USA","year":2017.35,"value":46.8,"size":15},
      {"label":"Japan","year":2015.6,"value":43.6,"size":15},
      {"label":"Germany","year":2015.6,"value":39.4,"size":15},
      {"label":"Greece","year":2015.7,"value":36.4,"size":15},
      {"label":"France","year":2015.7,"value":31.3,"size":15},
      {"label":"Top 10%","year":1959.9,"value":65.5,"size":19}
    ]
  },
  "encoding": {
    "x": {
      "field": "year",
      "type": "quantitative",
      "scale": {"domain": [1899.2, 2021.45], "nice": false, "zero": false},
      "axis": {
        "values": [1900, 1920, 1940, 1960, 1980, 2000, 2020],
        "format": "d",
        "title": null,
        "grid": true,
        "domainColor": "#c9d6e8",
        "domainWidth": 1.5,
        "tickColor": "#c9d6e8",
        "tickWidth": 1.5,
        "tickSize": 10,
        "labelPadding": 0,
        "labelOffset": {"expr": "datum.value == 2020 ? -14 : 0"}
      }
    },
    "y": {
      "field": "value",
      "type": "quantitative",
      "scale": {"domain": [26.2, 69.8], "nice": false, "zero": false},
      "axis": {
        "values": [30, 40, 50, 60],
        "title": "Share of total (%)",
        "titleFontSize": 14,
        "titleFontWeight": "normal",
        "titlePadding": 4,
        "grid": true,
        "ticks": false,
        "labelPadding": 8,
        "domainColor": "#dcdccf",
        "domainWidth": 1.5
      }
    }
  },
  "layer": [
    {
      "data": {"name": "lines"},
      "mark": {"type": "line", "interpolate": "monotone", "strokeWidth": 2.8, "clip": true, "strokeCap": "butt"},
      "encoding": {
        "detail": {"field": "seg"},
        "color": {
          "field": "country",
          "type": "nominal",
          "scale": {
            "domain": ["S.Africa", "India", "USA", "Japan", "Germany", "Greece", "France"],
            "range": ["#afc64c", "#3b968a", "#f0a834", "#57bce2", "#3f88c8", "#f26c2a", "#e05152"]
          },
          "legend": null
        },
        "strokeDash": {
          "field": "style",
          "type": "nominal",
          "scale": {"domain": ["solid", "dotted"], "range": [[1, 0], [3, 3]]},
          "legend": null
        }
      }
    },
    {
      "data": {"name": "points"},
      "mark": {"type": "circle", "size": 95, "opacity": 1},
      "encoding": {
        "color": {"field": "country", "type": "nominal", "legend": null}
      }
    },
    {
      "data": {"name": "labels"},
      "mark": {"type": "text", "font": "Liberation Serif", "color": "#222222", "align": "center", "baseline": "middle"},
      "encoding": {
        "text": {"field": "label"},
        "size": {"field": "size", "type": "quantitative", "scale": null}
      }
    }
  ]
}
